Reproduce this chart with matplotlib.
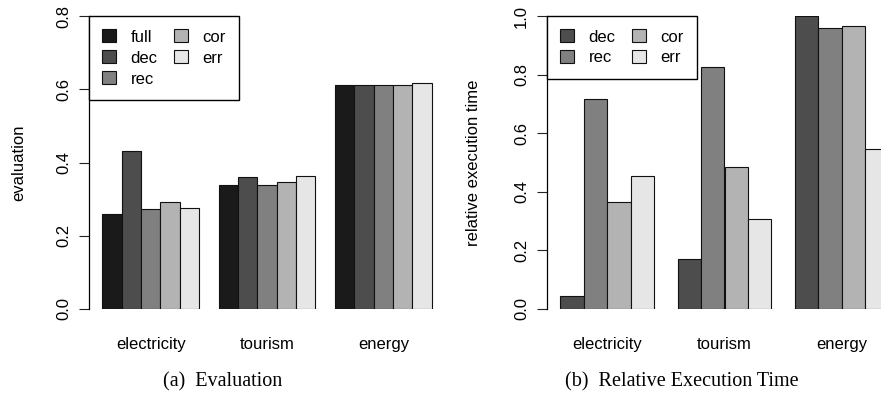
import matplotlib
matplotlib.use("Agg")
import matplotlib.pyplot as plt
from matplotlib.patches import Patch

plt.rcParams["font.family"] = ["Liberation Sans", "DejaVu Sans"]

# data
datasets = ["electricity", "tourism", "energy"]

eval_methods = ["full", "dec", "rec", "cor", "err"]
eval_full = [0.259, 0.339, 0.611]
eval_dec = [0.431, 0.360, 0.611]
eval_rec = [0.272, 0.338, 0.611]
eval_cor = [0.293, 0.346, 0.611]
eval_err = [0.276, 0.363, 0.616]

time_methods = ["dec", "rec", "cor", "err"]
time_dec = [0.043, 0.172, 1.0]
time_rec = [0.716, 0.827, 0.958]
time_cor = [0.366, 0.484, 0.966]
time_err = [0.453, 0.306, 0.547]

renk = {"full": "#1a1a1a", "dec": "#4d4d4d", "rec": "#808080",
        "cor": "#b3b3b3", "err": "#e6e6e6"}

W, H = 881, 397
fig = plt.figure(figsize=(W / 100, H / 100), dpi=100)


def panel(px_left, px_width, methods, series, ymax, yticks, ylabel, label_x):
    ax = fig.add_axes([px_left / W, (H - 309) / H, px_width / W, 293 / H])
    n = len(methods)
    # R barplot beside=TRUE style: space 1 before each group
    for j, (m, vals) in enumerate(zip(methods, series)):
        lefts = [1 + g * (n + 1) + j for g in range(len(datasets))]
        ax.bar(lefts, vals, width=1, align="edge", color=renk[m],
               edgecolor="#111111", linewidth=0.8)
    end = len(datasets) * (n + 1)
    span = end - 1
    ax.set_xlim(1 - 0.04 * span, end + 0.04 * span)
    ax.set_ylim(0, ymax)
    centers = [1 + g * (n + 1) + n / 2 for g in range(len(datasets))]
    ax.set_xticks(centers)
    ax.set_xticklabels(datasets, fontsize=12)
    ax.tick_params(axis="x", length=0, pad=20)
    ax.set_yticks(yticks)
    ax.set_yticklabels([f"{t:.1f}" for t in yticks], fontsize=12, rotation=90, va="center")
    ax.tick_params(axis="y", length=7, width=0.8, pad=6, color="#222222")
    for s in ["top", "right", "bottom"]:
        ax.spines[s].set_visible(False)
    ax.spines["left"].set_linewidth(0.9)
    ax.set_ylabel(ylabel, fontsize=12, va="center", ha="center")
    ax.yaxis.set_label_coords(label_x, 0.5)
    handles = [Patch(facecolor=renk[m], edgecolor="#111111", linewidth=0.8) for m in methods]
    leg = ax.legend(handles, methods, loc="upper left", bbox_to_anchor=(0, 1),
                    borderaxespad=0, ncol=2, fontsize=12, handlelength=0.8,
                    handleheight=0.8, handletextpad=0.9, columnspacing=1.0,
                    labelspacing=0.35, borderpad=0.8, fancybox=False, framealpha=1)
    leg.get_frame().set_edgecolor("black")
    leg.get_frame().set_linewidth(1.0)
    return ax


panel(89, 356, eval_methods, [eval_full, eval_dec, eval_rec, eval_cor, eval_err],
      0.8, [0.0, 0.2, 0.4, 0.6, 0.8], "evaluation", -0.197)
panel(547, 355, time_methods, [time_dec, time_rec, time_cor, time_err],
      1.0, [0.0, 0.2, 0.4, 0.6, 0.8, 1.0], "relative execution time", -0.208)

fig.text(223 / W, 1 - 382 / H, "(a)  Evaluation", ha="center", va="center",
         fontsize=14.5, family="Liberation Serif")
fig.text(682 / W, 1 - 382 / H, "(b)  Relative Execution Time", ha="center", va="center",
         fontsize=14.5, family="Liberation Serif")

fig.savefig("out.png", dpi=100)
